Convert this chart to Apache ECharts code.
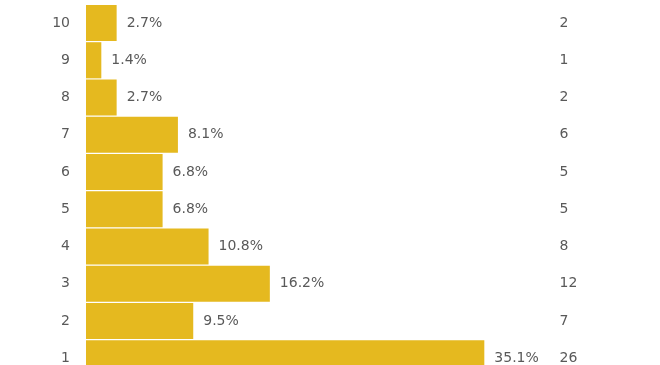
<!DOCTYPE html>
<html>
<head>
<meta charset="utf-8">
<script src="https://cdn.jsdelivr.net/npm/echarts@6/dist/echarts.min.js"></script>
<style>
html,body{margin:0;padding:0;overflow:hidden;background:#fff;width:660px;height:365px;}
#chart{width:660px;height:400px;}
</style>
</head>
<body>
<div id="chart"></div>
<script>
// Categories from bottom to top
var categories = ['1', '2', '3', '4', '5', '6', '7', '8', '9', '10'];
// Counts per category
var counts = [26, 7, 12, 8, 5, 5, 6, 2, 1, 2];
// Percent labels as displayed
var percentLabels = ['35.1%', '9.5%', '16.2%', '10.8%', '6.8%', '6.8%', '8.1%', '2.7%', '1.4%', '2.7%'];
// Right-side count labels
var countLabels = ['26', '7', '12', '8', '5', '5', '6', '2', '1', '2'];

var textColor = '#595959';
var font = 'DejaVu Sans, Verdana, sans-serif';

var chart = echarts.init(document.getElementById('chart'), null, {renderer: 'canvas'});
chart.setOption({
  animation: false,
  grid: {left: 86, top: 4.4, width: 459.6, height: 372.5, containLabel: false},
  xAxis: {
    type: 'value', min: 0, max: 30,
    show: false
  },
  yAxis: [{
    type: 'category',
    data: categories,
    position: 'left',
    axisLine: {show: false},
    axisTick: {show: false},
    splitLine: {show: false},
    axisLabel: {color: textColor, fontSize: 14, fontFamily: font, margin: 16}
  }, {
    type: 'category',
    data: countLabels,
    position: 'right',
    axisLine: {show: false},
    axisTick: {show: false},
    splitLine: {show: false},
    axisLabel: {color: textColor, fontSize: 14, fontFamily: font, margin: 14, align: 'left'}
  }],
  series: [{
    type: 'bar',
    yAxisIndex: 0,
    data: counts,
    barCategoryGap: '3%',
    itemStyle: {color: '#E5B91F'},
    label: {
      show: true,
      position: 'right',
      distance: 10,
      color: textColor,
      fontSize: 14,
      fontFamily: font,
      formatter: function (p) { return percentLabels[p.dataIndex]; }
    }
  }]
});
</script>
</body>
</html>
